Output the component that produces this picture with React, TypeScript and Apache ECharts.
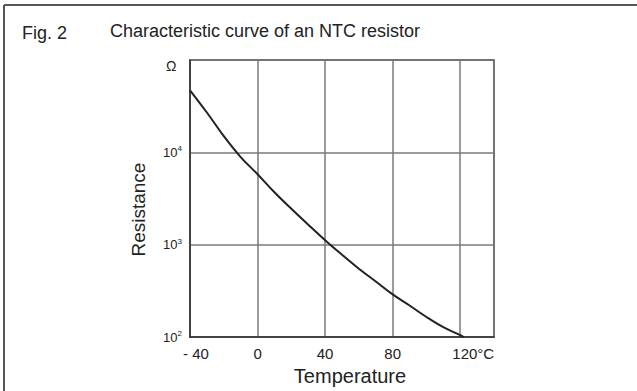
import React, { useEffect, useRef } from "react";
import * as echarts from "echarts";

const temperatures = [-40, -30, -20, -10, 0, 10, 20, 30, 40, 50, 60, 70, 80, 90, 100, 110, 120, 122];
const resistances = [47000, 27000, 15000, 8900, 5800, 3700, 2450, 1650, 1120, 780, 550, 400, 290, 220, 165, 128, 105, 100];
const xTicks = [-40, 0, 40, 80, 120];
const yExponents = [2, 3, 4];

export default function App() {
  const ref = useRef<HTMLDivElement>(null);
  useEffect(() => {
    document.body.style.margin = "0";
    const chart = echarts.init(ref.current!, undefined, { renderer: "svg" });
    const font = "'Liberation Sans', Arial, Helvetica, sans-serif";
    chart.setOption({
      animation: false,
      backgroundColor: "#ffffff",
      textStyle: { fontFamily: font },
      graphic: [
        { type: "line", shape: { x1: 4, y1: 5, x2: 637, y2: 5 }, style: { stroke: "#555", lineWidth: 2 } },
        { type: "line", shape: { x1: 4, y1: 5, x2: 4, y2: 391 }, style: { stroke: "#555", lineWidth: 2 } },
        { type: "text", left: 22, top: 24, style: { text: "Fig. 2", fontSize: 18, fontFamily: font, fill: "#222" } },
        { type: "text", left: 110, top: 22, style: { text: "Characteristic curve of an NTC resistor", fontSize: 18, fontFamily: font, fill: "#222" } },
        { type: "text", left: 166, top: 59, style: { text: "Ω", fontSize: 14, fontFamily: font, fill: "#222" } },
      ],
      grid: {
        left: 190, top: 60, width: 304, height: 283,
        show: true, borderColor: "#333", borderWidth: 1.5,
      },
      xAxis: {
        type: "value", min: -40, max: 140, interval: 40,
        name: "Temperature", nameLocation: "middle", nameGap: 28,
        nameTextStyle: { fontSize: 20, color: "#222", padding: [0, 0, 0, 16], fontFamily: font },
        axisLine: { show: true, onZero: false, lineStyle: { color: "#333", width: 1.5 } },
        axisTick: { show: false },
        splitLine: { show: true, lineStyle: { color: "#7a7a7a", width: 1.5 } },
        axisLabel: {
          margin: 9, fontSize: 15, color: "#222", fontFamily: font,
          formatter: (v: number) => {
            if (!xTicks.includes(v)) return "";
            if (v === -40) return "{a|- 40}";
            if (v === 120) return "{b|120°C}";
            return String(v);
          },
          rich: {
            a: { fontSize: 15, color: "#222", padding: [0, 0, 0, 12], fontFamily: font },
            b: { fontSize: 15, color: "#222", padding: [0, 0, 0, 26], fontFamily: font },
          },
        },
      },
      yAxis: {
        type: "log", logBase: 10, min: 100, max: 100000,
        name: "Resistance", nameLocation: "middle", nameGap: 42,
        nameTextStyle: { fontSize: 19, color: "#222", padding: [0, 22, 0, 0], fontFamily: font },
        axisLine: { show: true, onZero: false, lineStyle: { color: "#333", width: 1.5 } },
        axisTick: { show: false },
        minorTick: { show: false },
        splitLine: { show: true, lineStyle: { color: "#7a7a7a", width: 1.5 } },
        axisLabel: {
          margin: 8, color: "#222", fontFamily: font,
          formatter: (v: number) => {
            const e = Math.round(Math.log10(v));
            if (!yExponents.includes(e)) return "";
            return "{base|10}{sup|" + e + "}";
          },
          rich: {
            base: { fontSize: 13, color: "#222", fontFamily: font },
            sup: { fontSize: 8, color: "#222", padding: [0, 0, 7, 0], fontFamily: font },
          },
        },
      },
      series: [
        {
          type: "line",
          data: temperatures.map((t, i) => [t, resistances[i]]),
          smooth: 0.4,
          showSymbol: false,
          lineStyle: { color: "#222", width: 2 },
          clip: true,
        },
      ],
    });
    return () => chart.dispose();
  }, []);
  return <div ref={ref} style={{ width: 637, height: 391 }} />;
}
